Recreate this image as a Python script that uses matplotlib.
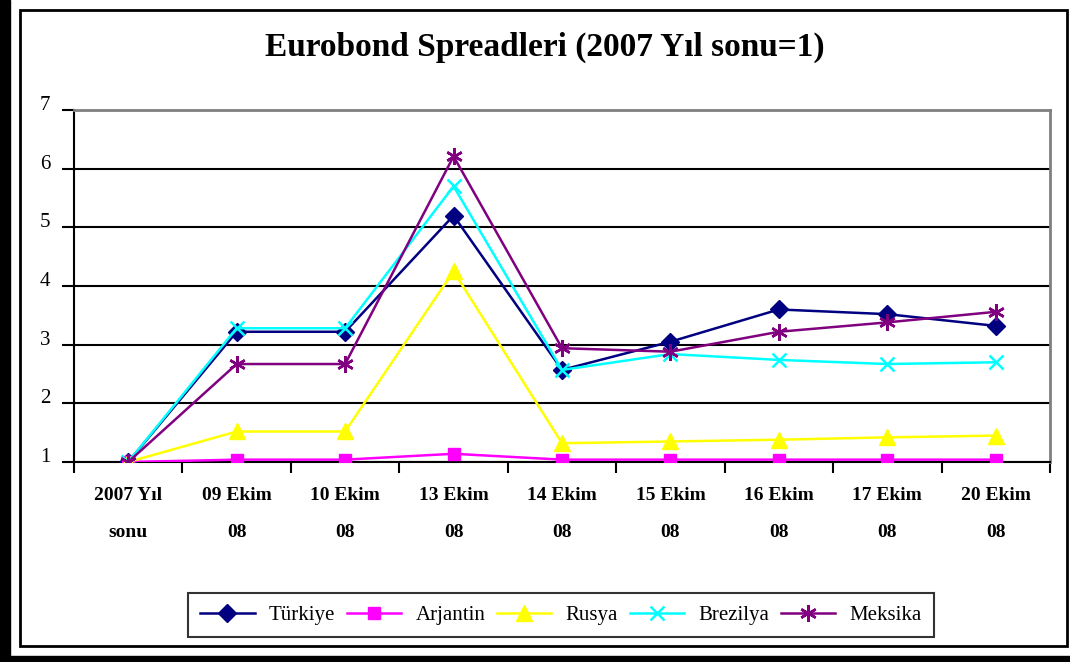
import matplotlib
matplotlib.use("Agg")
import matplotlib.pyplot as plt
from matplotlib.patches import Rectangle
import numpy as np

# Veriler (2007 yıl sonu = 1)
categories = ["2007 Yıl\nsonu", "09 Ekim\n08", "10 Ekim\n08", "13 Ekim\n08",
              "14 Ekim\n08", "15 Ekim\n08", "16 Ekim\n08", "17 Ekim\n08",
              "20 Ekim\n08"]
turkiye = [1.0, 3.22, 3.22, 5.20, 2.57, 3.05, 3.60, 3.52, 3.32]
arjantin = [1.0, 1.04, 1.04, 1.14, 1.04, 1.04, 1.04, 1.04, 1.04]
rusya = [1.0, 1.52, 1.52, 4.25, 1.32, 1.35, 1.38, 1.42, 1.45]
brezilya = [1.0, 3.28, 3.28, 5.70, 2.57, 2.84, 2.74, 2.67, 2.70]
meksika = [1.0, 2.67, 2.67, 6.21, 2.94, 2.88, 3.22, 3.38, 3.56]

series = [
    ("Türkiye", turkiye, "#000080", "D", 9),
    ("Arjantin", arjantin, "#FF00FF", "s", 9),
    ("Rusya", rusya, "#FFFF00", "^", 11),
    ("Brezilya", brezilya, "#00FFFF", "x", 10),
    ("Meksika", meksika, "#800080", (6, 2, 0), 12),
]

serif = ["Liberation Serif", "DejaVu Serif"]

fig = plt.figure(figsize=(10.70, 6.62), dpi=100)
ax = fig.add_axes([74 / 1070, 1 - 462 / 662, (1050 - 74) / 1070, (462 - 110) / 662])

x = np.arange(len(categories))
for name, vals, color, marker, ms in series:
    ax.plot(x, vals, color=color, lw=1.8, marker=marker, markersize=ms,
            markeredgewidth=1.8 if marker in ("x", (6, 2, 0)) else 1,
            markeredgecolor=color, label=name, zorder=3)

ax.set_xlim(-0.5, len(categories) - 0.5)
ax.set_ylim(1, 7)
ax.set_yticks(range(1, 8))
ax.set_yticklabels([str(v) for v in range(1, 8)], fontfamily=serif, fontsize=15,
                   va="baseline")
ax.yaxis.grid(True, color="black", lw=1.5, zorder=1)
ax.set_axisbelow(True)

ax.set_xticks(x)
ax.set_xticklabels(categories, fontfamily=serif, fontsize=14, fontweight="bold",
                   linespacing=2.55)
ax.tick_params(axis="x", which="major", length=0, pad=18)
ax.set_xticks(np.arange(-0.5, len(categories), 1), minor=True)
ax.tick_params(axis="x", which="minor", length=8, width=1.5, direction="out")
ax.tick_params(axis="y", length=9, width=1.5, direction="out", pad=8)

for side in ("top", "right"):
    ax.spines[side].set_color("#808080")
    ax.spines[side].set_linewidth(2)
for side in ("left", "bottom"):
    ax.spines[side].set_color("black")
    ax.spines[side].set_linewidth(1.5)

fig.text(545 / 1070, 1 - 47 / 662, "Eurobond Spreadleri (2007 Yıl sonu=1)",
         ha="center", va="center", fontsize=24, fontweight="bold",
         fontfamily=serif)

leg = fig.legend(loc="center", bbox_to_anchor=(561 / 1070, 1 - 615 / 662),
                 ncol=5, frameon=True, fancybox=False, edgecolor="black",
                 prop={"family": serif, "size": 15}, handlelength=2.6,
                 columnspacing=0.55, handletextpad=0.7, borderpad=0.6,
                 borderaxespad=0)
leg.get_frame().set_linewidth(1.5)

# Çerçeveler
fig.patches.append(Rectangle((20 / 1070, 1 - 646 / 662), (1067 - 20) / 1070,
                             (646 - 10) / 662, transform=fig.transFigure,
                             fill=False, edgecolor="black", lw=2))
fig.patches.append(Rectangle((0, 0), 10 / 1070, 1, transform=fig.transFigure,
                             color="black"))
fig.patches.append(Rectangle((0, 0), 1, 6 / 662, transform=fig.transFigure,
                             color="black"))

fig.savefig("out.png", dpi=100)
